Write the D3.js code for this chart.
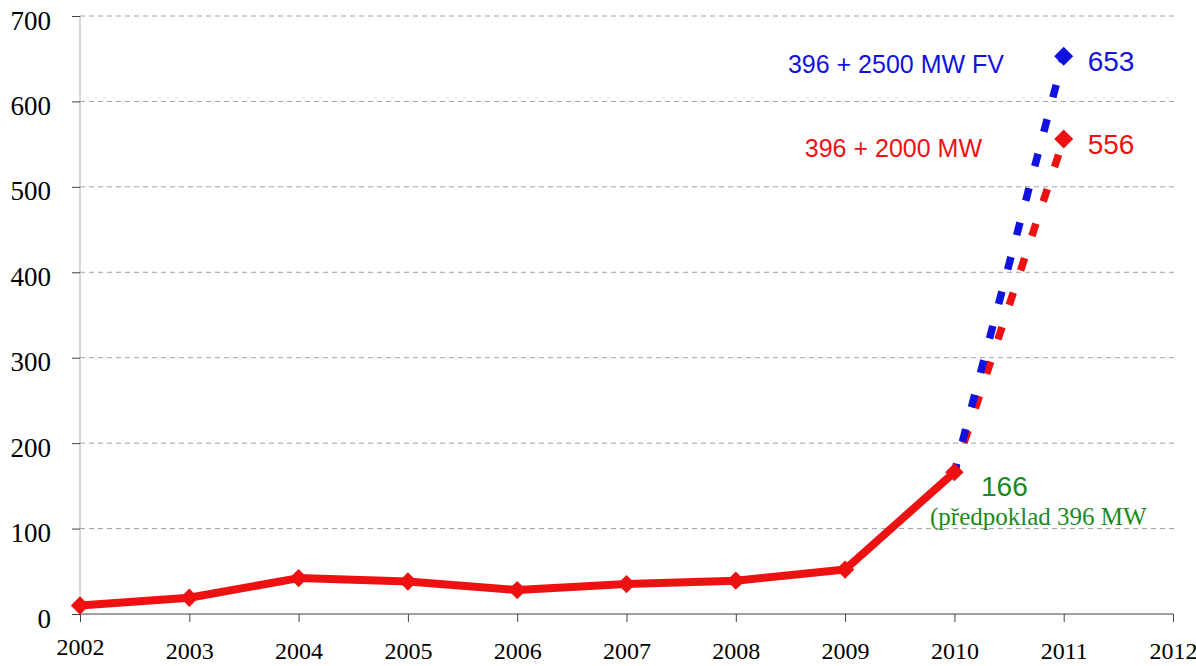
<!DOCTYPE html>
<html>
<head>
<meta charset="utf-8">
<script src="https://cdn.jsdelivr.net/npm/d3@7"></script>
<style>
  body { margin: 0; background: #fff; }
  svg { display: block; }
  .tick text { font-family: "Liberation Serif", "Times New Roman", serif; fill: #000; }
</style>
</head>
<body>
<svg id="chart" width="1196" height="666"></svg>
<script>
// values
const years = [2002, 2003, 2004, 2005, 2006, 2007, 2008, 2009, 2010]
const installed = [10, 19, 42, 38, 28, 35, 39, 52, 166]
const forecastYear = 2011
const forecastHigh = 653   // 396 + 2500 MW FV
const forecastLow = 556    // 396 + 2000 MW
const yTicks = [0, 100, 200, 300, 400, 500, 600, 700]
const xTicks = [2002, 2003, 2004, 2005, 2006, 2007, 2008, 2009, 2010, 2011, 2012]

const red = "#ee1111", blue = "#1212e0", green = "#1b8a1b"

const svg = d3.select("#chart")
const plotLeft = 80, plotRight = 1173, plotTop = 16, plotBottom = 614

const x = d3.scaleLinear().domain([2002, 2012]).range([plotLeft, plotRight])
const y = d3.scaleLinear().domain([0, 700]).range([plotBottom, plotTop])

// gridlines
svg.append("g")
  .selectAll("line")
  .data(yTicks.filter(d => d > 0))
  .enter().append("line")
  .attr("x1", plotLeft).attr("x2", plotRight + 3)
  .attr("y1", d => y(d)).attr("y2", d => y(d))
  .attr("stroke", "#a0a0a0")
  .attr("stroke-width", 1)
  .attr("stroke-dasharray", "5,4")

// y axis
const yAxis = svg.append("g")
  .attr("transform", "translate(" + plotLeft + ",0)")
  .call(d3.axisLeft(y).tickValues(yTicks).tickSize(8).tickPadding(0).tickFormat(d3.format("d")))
yAxis.select(".domain").attr("stroke", "#b0b0b0").attr("d", "M0," + plotBottom + "V" + plotTop)
yAxis.selectAll(".tick line").attr("stroke", "#404040")
yAxis.selectAll(".tick text")
  .style("font-size", "27px")
  .attr("x", -29).attr("dy", null).attr("y", 13)

// x axis
const xAxis = svg.append("g")
  .attr("transform", "translate(0," + plotBottom + ")")
  .call(d3.axisBottom(x).tickValues(xTicks).tickSize(8).tickFormat(d3.format("d")))
xAxis.select(".domain").attr("stroke", "#404040").attr("d", "M" + plotLeft + ",0H" + plotRight)
xAxis.selectAll(".tick line").attr("stroke", "#404040")
xAxis.selectAll(".tick text")
  .style("font-size", "24px")
  .attr("dy", null)
  .attr("y", d => d === 2002 ? 41 : 45)

// forecast dotted lines (red first, blue on top)
const lastYear = years[years.length - 1], lastVal = installed[installed.length - 1]
const dotted = (target, color, dash, offset) => svg.append("line")
  .attr("x1", x(lastYear)).attr("y1", y(lastVal))
  .attr("x2", x(forecastYear)).attr("y2", y(target))
  .attr("stroke", color)
  .attr("stroke-width", 7.5)
  .attr("stroke-dasharray", dash)
  .attr("stroke-dashoffset", offset)
dotted(forecastLow, red, "13,23.3", 5.5)
dotted(forecastHigh, blue, "13,22.6", 4.1)

// main line
const pts = years.map((d, i) => [d, installed[i]])
svg.append("path")
  .datum(pts)
  .attr("fill", "none")
  .attr("stroke", red)
  .attr("stroke-width", 8)
  .attr("stroke-linejoin", "round")
  .attr("d", d3.line().x(d => x(d[0])).y(d => y(d[1])))

const diamond = d3.symbol().type(d3.symbolDiamond2).size(215)
svg.append("g")
  .selectAll("path")
  .data(pts)
  .enter().append("path")
  .attr("transform", d => "translate(" + x(d[0]) + "," + y(d[1]) + ")")
  .attr("d", diamond)
  .attr("fill", red)

const bigDiamond = d3.symbol().type(d3.symbolDiamond2).size(230)
svg.append("path")
  .attr("transform", "translate(" + x(forecastYear) + "," + y(forecastLow) + ")")
  .attr("d", bigDiamond).attr("fill", red)
svg.append("path")
  .attr("transform", "translate(" + x(forecastYear) + "," + y(forecastHigh) + ")")
  .attr("d", bigDiamond).attr("fill", blue)

// annotations
const sans = "'Liberation Sans', Arial, sans-serif"
const label = (txt, tx, ty, color, size, family, anchor) => svg.append("text")
  .attr("x", tx).attr("y", ty)
  .attr("fill", color)
  .attr("font-size", size)
  .attr("font-family", family)
  .attr("text-anchor", anchor || "start")
  .text(txt)

label(forecastHigh, x(forecastYear) + 24, y(forecastHigh) + 15, blue, 28, sans)
label(forecastLow, x(forecastYear) + 24, y(forecastLow) + 15, red, 28, sans)
label("396 + 2500 MW FV", 1004, 73, blue, 25, sans, "end")
label("396 + 2000 MW", 982, 157, red, 25, sans, "end")
label(lastVal, 981, 496, green, 28, sans)
label("(předpoklad 396 MW", 930, 525, green, 25, "'Liberation Serif', 'Times New Roman', serif")
</script>
</body>
</html>
